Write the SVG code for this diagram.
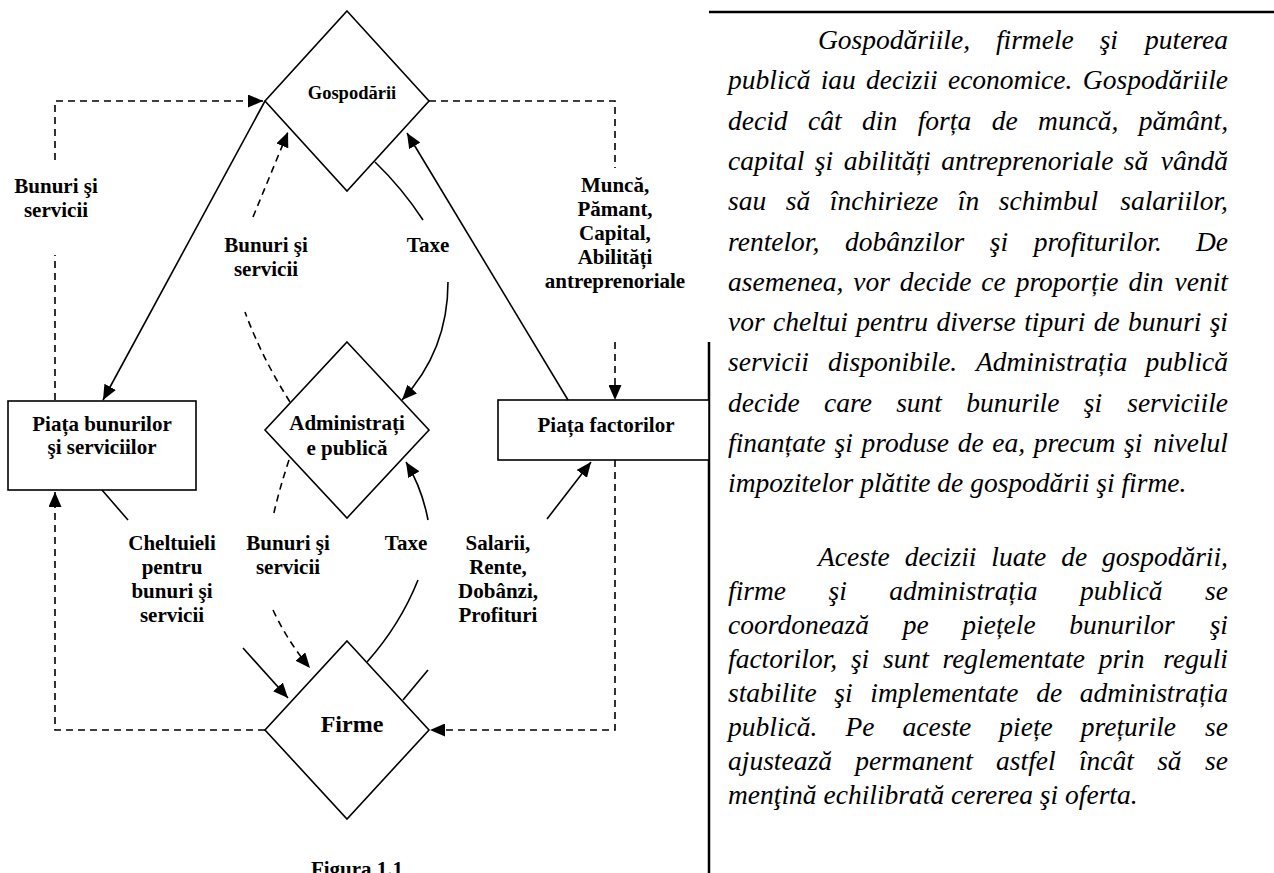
<svg xmlns="http://www.w3.org/2000/svg" width="1274" height="873" viewBox="0 0 1274 873">
<defs>
<style>
.node{fill:#fff;stroke:#000;stroke-width:1.6}
.lbl{font-family:"Liberation Serif","Times New Roman",serif;font-weight:bold;font-size:21px;text-anchor:middle;fill:#000}
.solid{fill:none;stroke:#000;stroke-width:1.6}
.dash{fill:none;stroke:#000;stroke-width:1.6;stroke-dasharray:7 5}
.body{font-family:"Liberation Serif","Times New Roman",serif;font-style:italic;font-size:27.5px;fill:#000}
.end{text-anchor:end}
.border{stroke:#000;stroke-width:2.5;fill:none}
</style>
<marker id="ah" markerWidth="15" markerHeight="13" refX="15" refY="6.5" orient="auto" markerUnits="userSpaceOnUse">
<path d="M0,0 L15,6.5 L0,13 z" fill="#000"/>
</marker>
</defs>
<rect width="1274" height="873" fill="#fff"/>

<g id="textbox">
<path class="border" d="M709,12 H1274"/>
<path class="border" d="M709,342 V873"/>
<g class="body">
<text x="818" y="49" word-spacing="19">Gospodăriile, firmele şi</text><text class="end" x="1228" y="49">puterea</text>
<text x="728" y="89.3" word-spacing="3.3">publică iau decizii economice.</text><text class="end" x="1228" y="89.3">Gospodăriile</text>
<text x="728" y="129.6" word-spacing="13.6">decid cât din forța de muncă,</text><text class="end" x="1228" y="129.6">pământ,</text>
<text x="728" y="169.9" word-spacing="3.6">capital şi abilități antreprenoriale să</text><text class="end" x="1228" y="169.9">vândă</text>
<text x="728" y="210.2" word-spacing="12.7">sau să închirieze în schimbul</text><text class="end" x="1228" y="210.2">salariilor,</text>
<text x="728" y="250.5" word-spacing="18.7">rentelor, dobânzilor şi profiturilor.</text><text class="end" x="1228" y="250.5">De</text>
<text x="728" y="290.8" word-spacing="3">asemenea, vor decide ce proporție din</text><text class="end" x="1228" y="290.8">venit</text>
<text x="728" y="331.1" word-spacing="1.5">vor cheltui pentru diverse tipuri de bunuri</text><text class="end" x="1228" y="331.1">şi</text>
<text x="728" y="371.4" word-spacing="12.3">servicii disponibile. Administrația</text><text class="end" x="1228" y="371.4">publică</text>
<text x="728" y="411.7" word-spacing="17.4">decide care sunt bunurile şi</text><text class="end" x="1228" y="411.7">serviciile</text>
<text x="728" y="452" word-spacing="1.8">finanțate şi produse de ea, precum şi</text><text class="end" x="1228" y="452">nivelul</text>
<text x="728" y="492.3">impozitelor plătite de gospodării şi firme.</text>
<text x="818" y="566" word-spacing="8">Aceste decizii luate de</text><text class="end" x="1228" y="566">gospodării,</text>
<text x="728" y="600" word-spacing="35.6">firme şi administrația publică</text><text class="end" x="1228" y="600">se</text>
<text x="728" y="634" word-spacing="26.8">coordonează pe piețele bunurilor</text><text class="end" x="1228" y="634">şi</text>
<text x="728" y="668" word-spacing="6.8">factorilor, şi sunt reglementate prin</text><text class="end" x="1228" y="668">reguli</text>
<text x="728" y="702" word-spacing="10.8">stabilite şi implementate de</text><text class="end" x="1228" y="702">administrația</text>
<text x="728" y="736" word-spacing="21.2">publică. Pe aceste piețe prețurile</text><text class="end" x="1228" y="736">se</text>
<text x="728" y="770" word-spacing="16.4">ajustează permanent astfel încât să</text><text class="end" x="1228" y="770">se</text>
<text x="728" y="804">menţină echilibrată cererea şi oferta.</text>
</g>
</g>

<g id="gospodarii">
<polygon class="node" points="347,11 429,101 347,191 265,101"/>
<text class="lbl" x="352" y="99" style="font-size:18.5px">Gospodării</text>
</g>
<g id="administratie">
<polygon class="node" points="347,342 429,430 347,518 265,430"/>
<text class="lbl" x="347" y="430">Administrați</text>
<text class="lbl" x="347" y="455">e publică</text>
</g>
<g id="firme">
<polygon class="node" points="347,641 429,730 347,819 265,730"/>
<text class="lbl" x="352" y="732" style="font-size:24px">Firme</text>
</g>
<g id="piata-bunurilor">
<rect class="node" x="8" y="401" width="188" height="89"/>
<text class="lbl" x="102" y="431">Piața bunurilor</text>
<text class="lbl" x="102" y="454">şi serviciilor</text>
</g>
<g id="piata-factorilor">
<rect class="node" x="498" y="400" width="211" height="60"/>
<text class="lbl" x="606" y="432">Piața factorilor</text>
</g>

<g id="connectors">
<path class="solid" d="M265,101 L103,400" marker-end="url(#ah)"/>
<path class="solid" d="M568,400 L407,133" marker-end="url(#ah)"/>
<path class="dash" d="M55,400 V255"/>
<path class="dash" d="M55,160 V101 H263" marker-end="url(#ah)"/>
<path class="dash" d="M429,101 H615 V168"/>
<path class="dash" d="M615,342 V400" marker-end="url(#ah)"/>
<path class="dash" d="M615,460 V730 H430" marker-end="url(#ah)"/>
<path class="dash" d="M265,730 H55 V492" marker-end="url(#ah)"/>
<path class="dash" d="M290,402 Q262,358 245,312"/>
<path class="dash" d="M253,217 L288,132" marker-end="url(#ah)"/>
<path class="solid" d="M375,162 Q402,188 423,220"/>
<path class="solid" d="M448,282 C448,330 430,370 402,400" marker-end="url(#ah)"/>
<path class="dash" d="M289,460 Q279,490 273,517"/>
<path class="dash" d="M273,610 Q288,642 310,668" marker-end="url(#ah)"/>
<path class="solid" d="M367,662 Q400,625 418,580"/>
<path class="solid" d="M428,520 Q422,488 406,462" marker-end="url(#ah)"/>
<path class="solid" d="M102,490 L128,520"/>
<path class="solid" d="M243,648 L288,698" marker-end="url(#ah)"/>
<path class="solid" d="M403,700 L428,670"/>
<path class="solid" d="M547,519 L591,462" marker-end="url(#ah)"/>
</g>

<g id="labels">
<text class="lbl" x="56" y="193">Bunuri şi</text>
<text class="lbl" x="56" y="217">servicii</text>
<text class="lbl" x="615" y="192">Muncă,</text>
<text class="lbl" x="615" y="216">Pămant,</text>
<text class="lbl" x="615" y="240">Capital,</text>
<text class="lbl" x="615" y="264">Abilități</text>
<text class="lbl" x="615" y="288">antreprenoriale</text>
<text class="lbl" x="266" y="252">Bunuri şi</text>
<text class="lbl" x="266" y="276">servicii</text>
<text class="lbl" x="428" y="252">Taxe</text>
<text class="lbl" x="172" y="550">Cheltuieli</text>
<text class="lbl" x="172" y="574">pentru</text>
<text class="lbl" x="172" y="598">bunuri şi</text>
<text class="lbl" x="172" y="622">servicii</text>
<text class="lbl" x="288" y="550">Bunuri şi</text>
<text class="lbl" x="288" y="574">servicii</text>
<text class="lbl" x="406" y="550">Taxe</text>
<text class="lbl" x="498" y="550">Salarii,</text>
<text class="lbl" x="498" y="574">Rente,</text>
<text class="lbl" x="498" y="598">Dobânzi,</text>
<text class="lbl" x="498" y="622">Profituri</text>
<text class="lbl" x="357" y="876">Figura 1.1</text>
</g>
</svg>
